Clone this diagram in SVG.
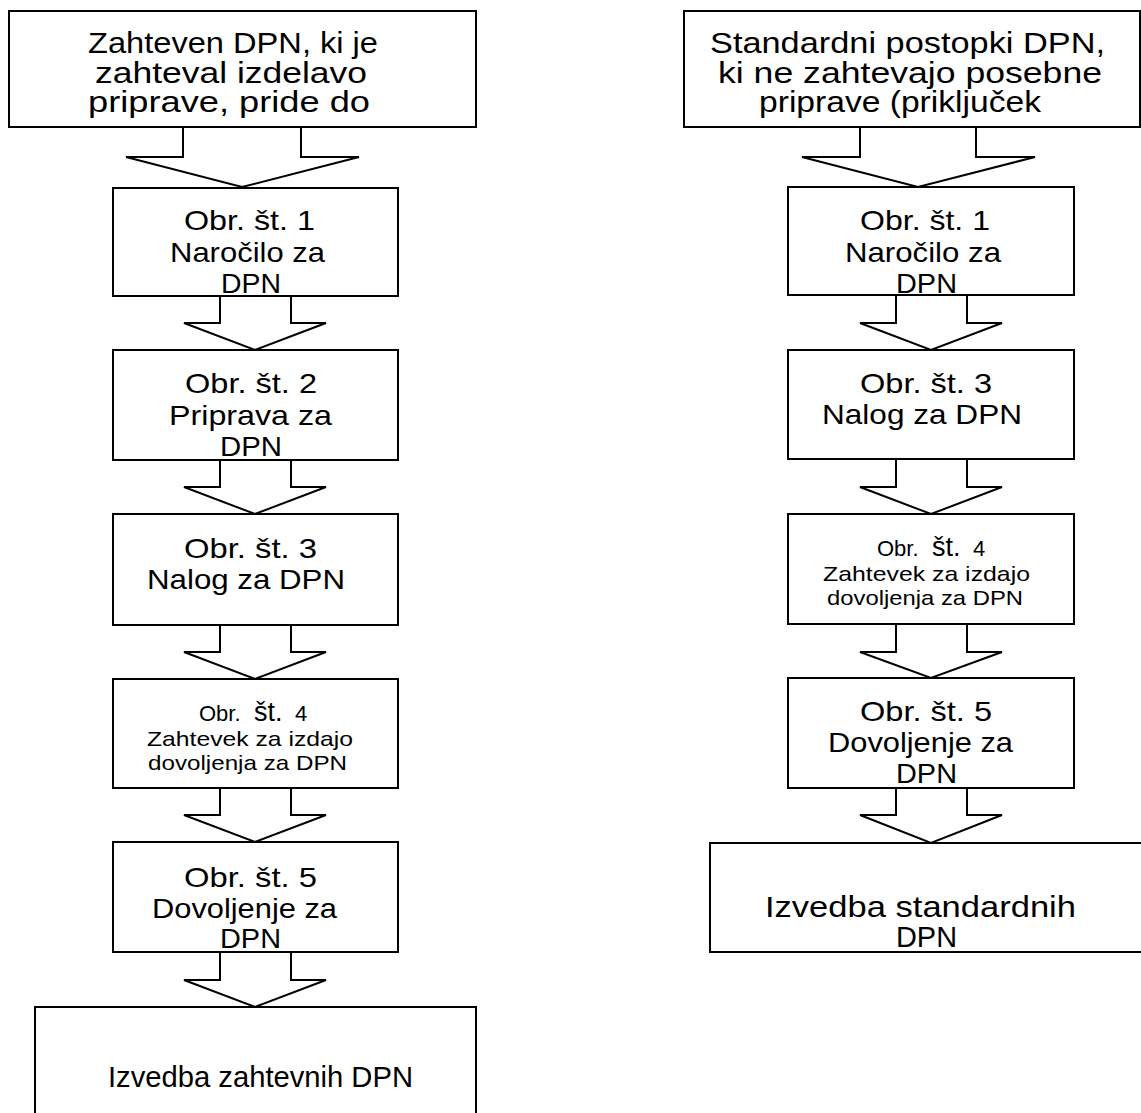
<svg xmlns="http://www.w3.org/2000/svg" width="1141" height="1113" viewBox="0 0 1141 1113">
<style>
.box{fill:#fff;stroke:#000;stroke-width:2}
.arr{fill:#fff;stroke:#000;stroke-width:2;stroke-linejoin:miter}
text{font-family:"Liberation Sans",Arial,sans-serif;fill:#000}
.big{font-size:29px}
.mid{font-size:28px}
.sm{font-size:21px}
</style>
<rect width="1141" height="1113" fill="#fff"/>
<g id="connectors">
<polyline class="arr" points="183,127 183,157 126,157 242,187 359,157 301,157 301,127"/>
<polyline class="arr" points="220,296 220,323 184,323 255,350 326,323 291,323 291,296"/>
<polyline class="arr" points="220,460 220,487 184,487 255,514 326,487 291,487 291,460"/>
<polyline class="arr" points="220,625 220,652 184,652 255,679 326,652 291,652 291,625"/>
<polyline class="arr" points="220,788 220,815 184,815 255,842 326,815 291,815 291,788"/>
<polyline class="arr" points="220,952 220,980 184,980 255,1007 326,980 291,980 291,952"/>
<polyline class="arr" points="860,127 860,157 802,157 918,187 1035,157 976,157 976,127"/>
<polyline class="arr" points="896,295 896,323 860,323 931,350 1002,323 967,323 967,295"/>
<polyline class="arr" points="896,459 896,487 860,487 931,514 1002,487 967,487 967,459"/>
<polyline class="arr" points="896,624 896,652 860,652 931,678 1002,652 967,652 967,624"/>
<polyline class="arr" points="896,788 896,815 860,815 931,843 1002,815 967,815 967,788"/>
</g>
<g id="L0">
<rect class="box" x="9" y="11" width="467" height="116"/>
<text class="big" x="88" y="53" textLength="290" lengthAdjust="spacingAndGlyphs">Zahteven DPN, ki je</text>
<text class="big" x="95" y="83" textLength="272" lengthAdjust="spacingAndGlyphs">zahteval izdelavo</text>
<text class="big" x="88" y="112" textLength="282" lengthAdjust="spacingAndGlyphs">priprave, pride do</text>
</g>
<g id="L1">
<rect class="box" x="113" y="188" width="285" height="108"/>
<text class="mid" x="184" y="230" textLength="131" lengthAdjust="spacingAndGlyphs">Obr. št. 1</text>
<text class="mid" x="170" y="262" textLength="155" lengthAdjust="spacingAndGlyphs">Naročilo za</text>
<text class="mid" x="221" y="293" textLength="60" lengthAdjust="spacingAndGlyphs">DPN</text>
</g>
<g id="L2">
<rect class="box" x="113" y="350" width="285" height="110"/>
<text class="mid" x="185" y="393" textLength="132" lengthAdjust="spacingAndGlyphs">Obr. št. 2</text>
<text class="mid" x="169" y="425" textLength="163" lengthAdjust="spacingAndGlyphs">Priprava za</text>
<text class="mid" x="220" y="456" textLength="62" lengthAdjust="spacingAndGlyphs">DPN</text>
</g>
<g id="L3">
<rect class="box" x="113" y="514" width="285" height="111"/>
<text class="mid" x="184" y="558" textLength="133" lengthAdjust="spacingAndGlyphs">Obr. št. 3</text>
<text class="mid" x="147" y="589" textLength="198" lengthAdjust="spacingAndGlyphs">Nalog za DPN</text>
</g>
<g id="L4">
<rect class="box" x="113" y="679" width="285" height="109"/>
<text y="721"><tspan x="199" font-size="22">Obr.</tspan><tspan x="254" font-size="27">št.</tspan><tspan x="295" font-size="22">4</tspan></text>
<text class="sm" x="147" y="746" textLength="206" lengthAdjust="spacingAndGlyphs">Zahtevek za izdajo</text>
<text class="sm" x="148" y="770" textLength="199" lengthAdjust="spacingAndGlyphs">dovoljenja za DPN</text>
</g>
<g id="L5">
<rect class="box" x="113" y="842" width="285" height="110"/>
<text class="mid" x="184" y="887" textLength="133" lengthAdjust="spacingAndGlyphs">Obr. št. 5</text>
<text class="mid" x="152" y="918" textLength="185" lengthAdjust="spacingAndGlyphs">Dovoljenje za</text>
<text class="mid" x="220" y="948" textLength="61" lengthAdjust="spacingAndGlyphs">DPN</text>
</g>
<g id="L6">
<rect class="box" x="35" y="1007" width="441" height="120"/>
<text class="big" x="108" y="1087" textLength="305" lengthAdjust="spacingAndGlyphs">Izvedba zahtevnih DPN</text>
</g>
<g id="R0">
<rect class="box" x="684" y="11" width="456" height="116"/>
<text class="big" x="710" y="53" textLength="395" lengthAdjust="spacingAndGlyphs">Standardni postopki DPN,</text>
<text class="big" x="718" y="83" textLength="384" lengthAdjust="spacingAndGlyphs">ki ne zahtevajo posebne</text>
<text class="big" x="759" y="112" textLength="282" lengthAdjust="spacingAndGlyphs">priprave (priključek</text>
</g>
<g id="R1">
<rect class="box" x="788" y="187" width="286" height="108"/>
<text class="mid" x="860" y="230" textLength="130" lengthAdjust="spacingAndGlyphs">Obr. št. 1</text>
<text class="mid" x="845" y="262" textLength="156" lengthAdjust="spacingAndGlyphs">Naročilo za</text>
<text class="mid" x="896" y="293" textLength="61" lengthAdjust="spacingAndGlyphs">DPN</text>
</g>
<g id="R2">
<rect class="box" x="788" y="350" width="286" height="109"/>
<text class="mid" x="860" y="393" textLength="132" lengthAdjust="spacingAndGlyphs">Obr. št. 3</text>
<text class="mid" x="822" y="424" textLength="200" lengthAdjust="spacingAndGlyphs">Nalog za DPN</text>
</g>
<g id="R3">
<rect class="box" x="788" y="514" width="286" height="110"/>
<text y="556"><tspan x="877" font-size="22">Obr.</tspan><tspan x="932" font-size="27">št.</tspan><tspan x="973" font-size="22">4</tspan></text>
<text class="sm" x="823" y="581" textLength="207" lengthAdjust="spacingAndGlyphs">Zahtevek za izdajo</text>
<text class="sm" x="827" y="605" textLength="196" lengthAdjust="spacingAndGlyphs">dovoljenja za DPN</text>
</g>
<g id="R4">
<rect class="box" x="788" y="678" width="286" height="110"/>
<text class="mid" x="860" y="721" textLength="132" lengthAdjust="spacingAndGlyphs">Obr. št. 5</text>
<text class="mid" x="828" y="752" textLength="185" lengthAdjust="spacingAndGlyphs">Dovoljenje za</text>
<text class="mid" x="896" y="783" textLength="61" lengthAdjust="spacingAndGlyphs">DPN</text>
</g>
<g id="R5">
<rect class="box" x="710" y="843" width="450" height="109"/>
<text class="big" x="765" y="917" textLength="311" lengthAdjust="spacingAndGlyphs">Izvedba standardnih</text>
<text class="big" x="896" y="947" textLength="61" lengthAdjust="spacingAndGlyphs">DPN</text>
</g>
</svg>
